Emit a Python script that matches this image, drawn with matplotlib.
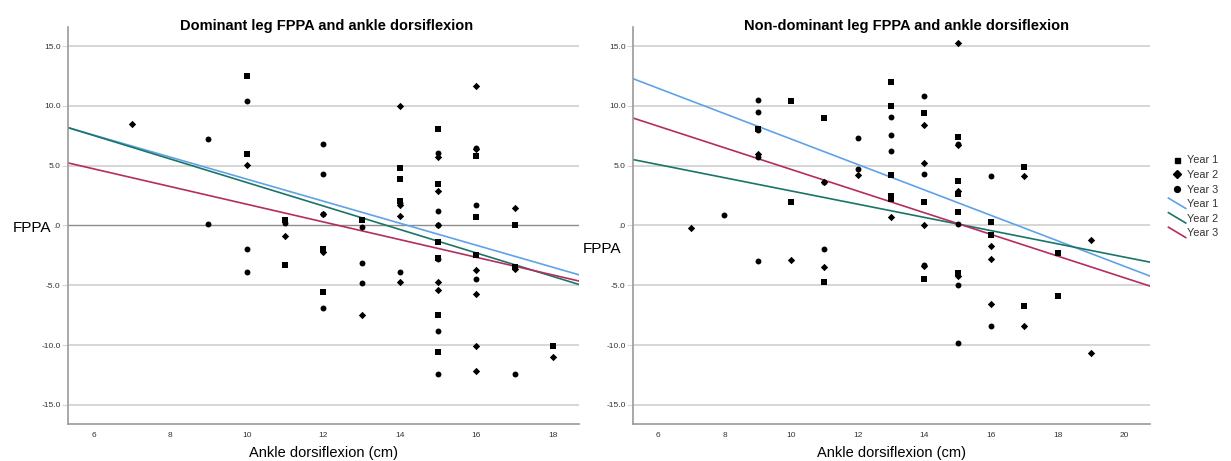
import numpy as np
import matplotlib
matplotlib.use("Agg")
import matplotlib.pyplot as plt
from matplotlib.lines import Line2D
from matplotlib.legend_handler import HandlerBase
from matplotlib.ticker import FuncFormatter

plt.rcParams['font.family'] = ['Liberation Sans', 'DejaVu Sans']

# --- Dominant leg (left panel) ---
dom_y1_x = [10, 10, 11, 11, 12, 12, 13, 14, 14, 14, 15, 15, 15, 15, 15, 15, 16, 16, 16, 17, 17, 18]
dom_y1_y = [12.5, 6.0, 0.45, -3.3, -1.95, -5.6, 0.42, 4.8, 3.9, 2.05, 8.1, 3.5, -1.4, -2.75, -7.5, -10.6,
            5.8, 0.7, -2.5, 0.0, -3.5, -10.1]
dom_y2_x = [7, 10, 11, 12, 12, 13, 14, 14, 14, 14, 15, 15, 15, 15, 15, 16, 16, 16, 16, 16, 16, 17, 17, 18]
dom_y2_y = [8.5, 5.1, -0.9, 1.0, -2.25, -7.5, 10.0, 1.7, 0.8, -4.7, 5.7, 2.9, 0.0, -4.7, -5.4,
            11.7, 6.4, -3.7, -5.7, -10.1, -12.2, 1.5, -3.6, -11.0]
dom_y3_x = [9, 9, 10, 10, 10, 11, 12, 12, 12, 12, 13, 13, 13, 14, 14, 15, 15, 15, 15, 15, 15, 16, 16, 16, 17]
dom_y3_y = [7.2, 0.1, 10.4, -2.0, -3.9, 0.25, 6.8, 4.3, 1.0, -6.9, -0.1, -3.1, -4.8, 1.9, -3.9,
            6.1, 1.2, 0.0, -2.8, -8.8, -12.4, 6.5, 1.7, -4.5, -12.4]
# fit lines: intercept, slope (Year 1, 2, 3)
dom_fit_a = [13.1, 13.43, 9.18]
dom_fit_b = [-0.922, -0.983, -0.740]

# --- Non-dominant leg (right panel) ---
non_y1_x = [9, 10, 10, 11, 11, 13, 13, 13, 13, 13, 14, 14, 14, 15, 15, 15, 15, 15, 16, 16, 17, 17, 18, 18]
non_y1_y = [8.1, 10.4, 2.0, 9.0, -4.7, 12.0, 10.0, 4.2, 2.5, 2.2, 9.4, 2.0, -4.5, 7.4, 3.7, 2.6, 1.1, -4.0,
            0.3, -0.8, 4.9, -6.7, -2.3, -5.9]
non_y2_x = [7, 9, 10, 11, 11, 12, 13, 14, 14, 14, 14, 15, 15, 15, 15, 16, 16, 16, 17, 17, 19, 19]
non_y2_y = [-0.2, 6.0, -2.9, 3.6, -3.5, 4.2, 0.7, 8.4, 5.2, 0.0, -3.4, 15.3, 6.7, 2.9, -4.25,
            -1.7, -2.8, -6.6, 4.1, -8.4, -1.2, -10.7]
non_y3_x = [8, 9, 9, 9, 9, 9, 11, 11, 12, 12, 13, 13, 13, 14, 14, 14, 15, 15, 15, 15, 16, 16]
non_y3_y = [0.9, 10.5, 9.5, 7.97, 5.7, -3.0, 3.6, -2.0, 7.3, 4.7, 9.1, 7.6, 6.2, 10.8, 4.3, -3.3,
            6.8, 0.1, -5.0, -9.8, 4.1, -8.4]
non_fit_a = [17.87, 8.42, 13.75]
non_fit_b = [-1.064, -0.553, -0.906]

years = ["Year 1", "Year 2", "Year 3"]
yticks = [-15, -10, -5, 0, 5, 10, 15]
line_colors = ['#5ea3e8', '#1a7567', '#b52c62']
grid_col = '#d6d6d6'
text_col = '#333333'


def fmt_y(v, pos):
    s = "%.1f" % v
    if s.startswith("0"):
        s = s[1:]
    if s == "-0.0":
        s = ".0"
    return s


class DiagHandler(HandlerBase):
    def create_artists(self, legend, orig_handle, xdescent, ydescent, width, height, fontsize, trans):
        ln = Line2D([-xdescent, -xdescent + width], [height + 1, -1],
                    color=orig_handle.get_color(), lw=orig_handle.get_linewidth())
        ln.set_transform(trans)
        return [ln]


def draw_panel(ax, series, fit_a, fit_b, xlim, xticks, zero_dark):
    ax.set_xlim(*xlim)
    ax.set_ylim(-16.6, 16.6)
    for y in yticks:
        if y == 0 and zero_dark:
            ax.axhline(y, color='#8c8c8c', lw=1.0, zorder=1)
        else:
            ax.axhline(y, color=grid_col, lw=1.4, zorder=1)
    markers = ['s', 'D', 'o']
    sizes = [13, 14, 18]
    for i in range(3):
        ax.scatter(series[i][0], series[i][1], marker=markers[i], s=sizes[i], color='black',
                   linewidths=0, zorder=3)
    xx = np.array(xlim)
    for i in range(3):
        ax.plot(xx, fit_a[i] + fit_b[i] * xx, color=line_colors[i], lw=1.2, zorder=2)
    ax.set_yticks(yticks)
    ax.yaxis.set_major_formatter(FuncFormatter(fmt_y))
    ax.set_xticks(xticks)
    ax.tick_params(axis='y', length=4, color=grid_col, labelsize=6, labelcolor=text_col, pad=1)
    ax.tick_params(axis='x', length=0, labelsize=6, labelcolor=text_col, pad=6)
    for s in ['top', 'right']:
        ax.spines[s].set_visible(False)
    for s in ['left', 'bottom']:
        ax.spines[s].set_color('#9a9a9a')
        ax.spines[s].set_linewidth(1.2)
    ax.set_xlabel("Ankle dorsiflexion (cm)", fontsize=10.5, color='black', labelpad=5)


fig = plt.figure(figsize=(12.31, 4.61), dpi=100)
ax1 = fig.add_axes([67.5 / 1231, 37 / 461, 511.5 / 1231, 397 / 461])
ax2 = fig.add_axes([632.5 / 1231, 37 / 461, 517.5 / 1231, 397 / 461])

draw_panel(ax1, [(dom_y1_x, dom_y1_y), (dom_y2_x, dom_y2_y), (dom_y3_x, dom_y3_y)],
           dom_fit_a, dom_fit_b, (5.32, 18.68), [6, 8, 10, 12, 14, 16, 18], True)
draw_panel(ax2, [(non_y1_x, non_y1_y), (non_y2_x, non_y2_y), (non_y3_x, non_y3_y)],
           non_fit_a, non_fit_b, (5.24, 20.77), [6, 8, 10, 12, 14, 16, 18, 20], False)

# titles are centred on each chart frame (label + plot + legend), as in the source
fig.text(327 / 1231, 1 - 30 / 461, "Dominant leg FPPA and ankle dorsiflexion",
         fontsize=10.5, fontweight='bold', ha='center', va='baseline')
fig.text(907 / 1231, 1 - 30 / 461, "Non-dominant leg FPPA and ankle dorsiflexion",
         fontsize=10.5, fontweight='bold', ha='center', va='baseline')

fig.text(13 / 1231, 1 - 228 / 461, "FPPA", fontsize=11, ha='left', va='center')
fig.text(583 / 1231, 1 - 249 / 461, "FPPA", fontsize=11, ha='left', va='center')

handles = [
    Line2D([], [], marker='s', ls='', color='black', ms=3.6),
    Line2D([], [], marker='D', ls='', color='black', ms=3.8),
    Line2D([], [], marker='o', ls='', color='black', ms=4.2),
]
for c in line_colors:
    handles.append(Line2D([], [], color=c, lw=1.2))
labels = years + years
hmap = {h: DiagHandler() for h in handles[3:]}
fig.legend(handles, labels, handler_map=hmap, loc='upper left',
           bbox_to_anchor=(1163 / 1231, 1 - 150 / 461), frameon=False, fontsize=7.8,
           handlelength=1.6, handletextpad=0.15, labelspacing=0.42, borderpad=0,
           labelcolor=text_col)

fig.savefig("out.png", dpi=100)
